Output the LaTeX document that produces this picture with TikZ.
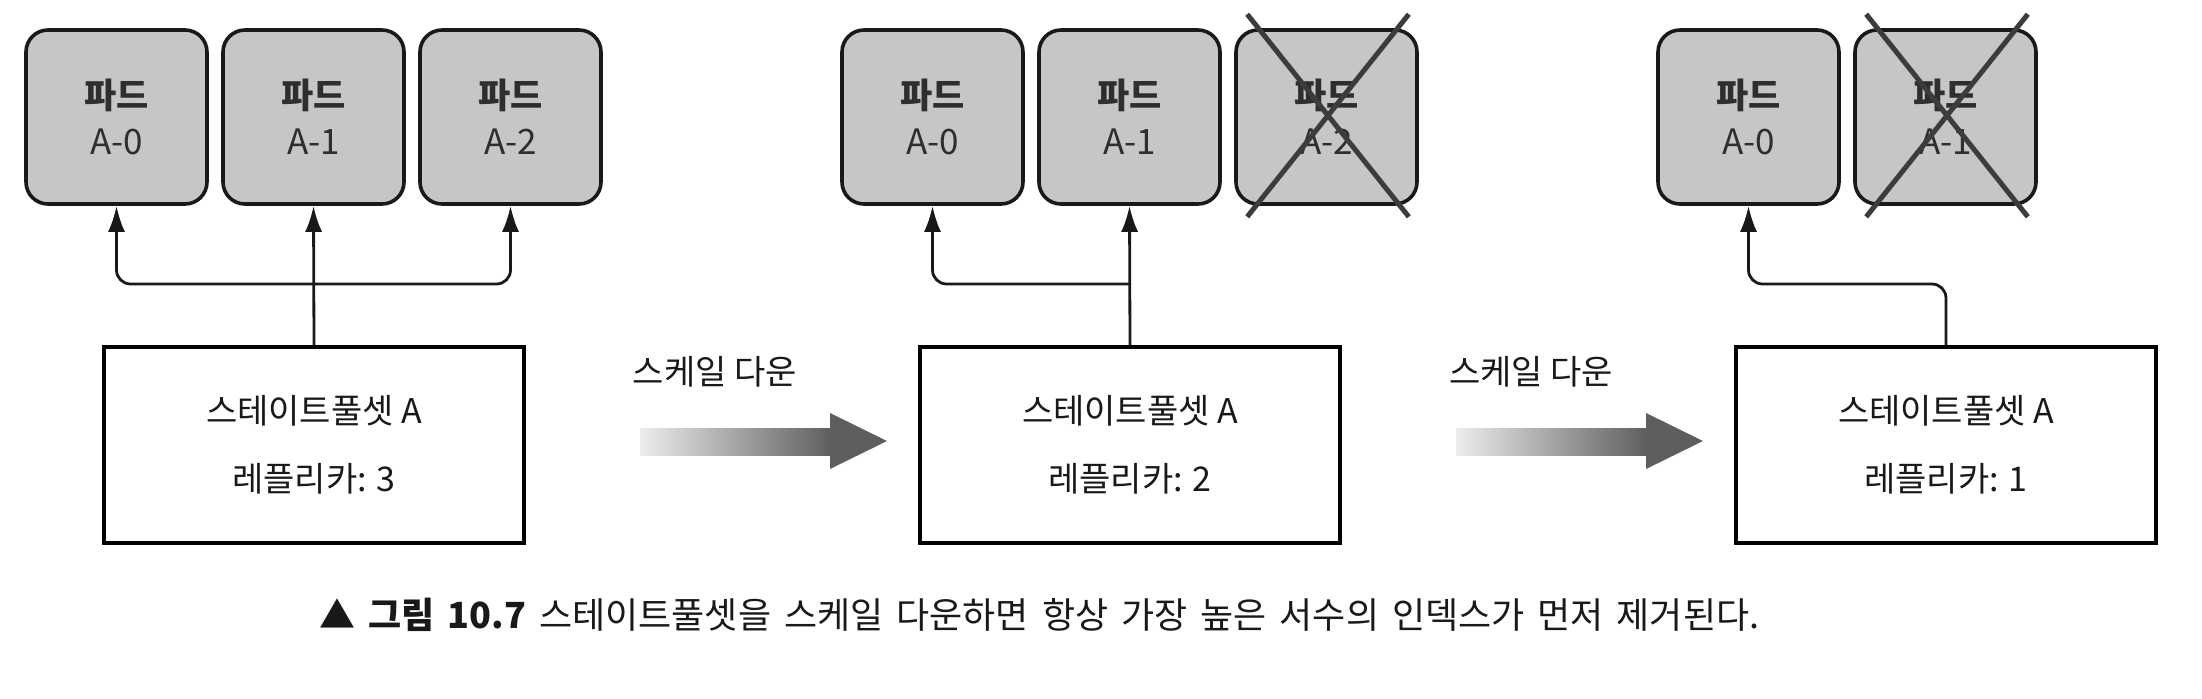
\documentclass[tikz,border=0pt]{standalone}
\usepackage{fontspec}
\newfontfamily\kr{Noto Sans CJK KR}
\usetikzlibrary{arrows.meta,calc}
\definecolor{podfill}{HTML}{C6C6C6}
\definecolor{podtext}{HTML}{2E2E2E}
\definecolor{crossgray}{HTML}{3C3C3C}
\definecolor{arrowgray}{HTML}{5E5E5E}
\definecolor{arrowlight}{HTML}{ECECEC}
\begin{document}
\begin{tikzpicture}[x=0.5pt,y=-0.5pt,
  pod/.style={draw=black!90, line width=1.8pt, fill=podfill, rounded corners=11pt,
    minimum width=90.5pt, minimum height=87pt, inner sep=0pt, align=center,
    text=podtext, font=\kr\fontsize{17.5}{23}\selectfont},
  sset/.style={draw=black, line width=1.7pt, fill=white, minimum width=210pt,
    minimum height=98pt, inner sep=0pt, align=center,
    font=\kr\fontsize{17}{34}\selectfont, text=black!90},
  conn/.style={line width=1.4pt, draw=black!90, -{Latex[length=13pt,width=8.5pt]}},
  roundconn/.style={conn, rounded corners=7pt},
  xmark/.style={line width=2.5pt, draw=crossgray},
  label/.style={font=\kr\fontsize{17}{20}\selectfont, text=black!90, inner sep=0pt},
  caption/.style={font=\kr\fontsize{18}{22}\selectfont, text=black!90, inner sep=0pt}
]
\fill[white] (0,0) rectangle (2202,698);
\useasboundingbox (0,0) rectangle (2202,698);

% ---------- group 1 ----------
\node[pod] (a0) at (116.5,117) {{\bfseries 파드}\\A-0};
\node[pod] (a1) at (313.5,117) {{\bfseries 파드}\\A-1};
\node[pod] (a2) at (510.5,117) {{\bfseries 파드}\\A-2};
\node[sset] (sa) at (314,445) {스테이트풀셋 A\\레플리카: 3};
\coordinate (ja) at (314,284);
\draw[conn] (sa.north) -- (a1.south);
\draw[roundconn] (ja) -| (a0.south);
\draw[roundconn] (ja) -| (a2.south);

% ---------- arrow 1 ----------
\node[label] (la) at (715,372) {스케일 다운};
\shade[left color=arrowlight, right color=arrowgray] (640,428) rectangle (832,455);
\fill[arrowgray] (830,413) -- (887,441) -- (830,469) -- cycle;

% ---------- group 2 ----------
\node[pod] (b0) at (932.5,117) {{\bfseries 파드}\\A-0};
\node[pod] (b1) at (1129.5,117) {{\bfseries 파드}\\A-1};
\node[pod] (b2) at (1326.5,117) {{\bfseries 파드}\\A-2};
\node[sset] (sb) at (1130,445) {스테이트풀셋 A\\레플리카: 2};
\coordinate (jb) at (1130,284);
\draw[conn] (sb.north) -- (b1.south);
\draw[roundconn] (jb) -| (b0.south);
\draw[xmark] ([xshift=6.5pt,yshift=7pt]b2.north west) -- ([xshift=-5pt,yshift=-5.5pt]b2.south east);
\draw[xmark] ([xshift=-5pt,yshift=7pt]b2.north east) -- ([xshift=6.5pt,yshift=-5.5pt]b2.south west);

% ---------- arrow 2 ----------
\node[label] (lb) at (1531,372) {스케일 다운};
\shade[left color=arrowlight, right color=arrowgray] (1456,428) rectangle (1648,455);
\fill[arrowgray] (1646,413) -- (1703,441) -- (1646,469) -- cycle;

% ---------- group 3 ----------
\node[pod] (c0) at (1748.5,117) {{\bfseries 파드}\\A-0};
\node[pod] (c1) at (1945.5,117) {{\bfseries 파드}\\A-1};
\node[sset] (sc) at (1946,445) {스테이트풀셋 A\\레플리카: 1};
\coordinate (jc) at (1946,284);
\draw[roundconn] (sc.north) -- (jc) -| (c0.south);
\draw[xmark] ([xshift=6.5pt,yshift=7pt]c1.north west) -- ([xshift=-5pt,yshift=-5.5pt]c1.south east);
\draw[xmark] ([xshift=-5pt,yshift=7pt]c1.north east) -- ([xshift=6.5pt,yshift=-5.5pt]c1.south west);

% ---------- caption ----------
\node[caption, anchor=west] (cap) at (319,615) {\makebox[720pt][s]{▲ \textbf{그림 10.7} 스테이트풀셋을 스케일 다운하면 항상 가장 높은 서수의 인덱스가 먼저 제거된다.}};
\end{tikzpicture}
\end{document}
